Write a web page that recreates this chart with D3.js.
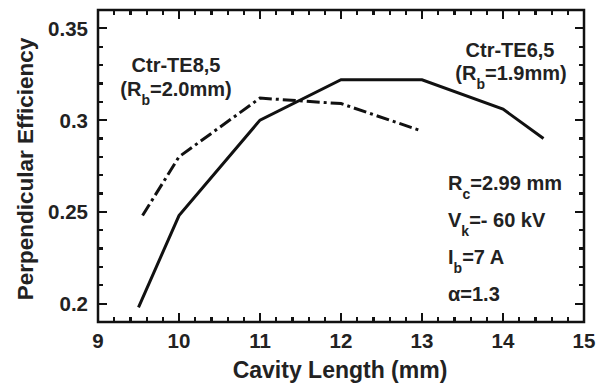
<!DOCTYPE html>
<html>
<head>
<meta charset="utf-8">
<script src="https://cdn.jsdelivr.net/npm/d3@7"></script>
<style>
    body { margin: 0; background: white; }
    svg { display: block; }
    text { font-family: "Liberation Sans", Arial, sans-serif; font-weight: bold; }
</style>
</head>
<body>
<div class="chart"></div>
<script>
// cavity length (mm) and efficiency for the two modes
var te65Length = [9.5, 10, 11, 12, 13, 14, 14.5];
var te65Eff = [0.198, 0.248, 0.300, 0.322, 0.322, 0.306, 0.290];

var te85Length = [9.55, 10, 11, 12, 13];
var te85Eff = [0.248, 0.280, 0.312, 0.309, 0.294];

var xTicks = [9, 10, 11, 12, 13, 14, 15];
var xTickLabels = ["9", "10", "11", "12", "13", "14", "15"];
var yTicks = [0.2, 0.25, 0.3, 0.35];
var yTickLabels = ["0.2", "0.25", "0.3", "0.35"];

function init(){
    var w = 611;
    var h = 383;
    var pLeft = 98, pRight = 584, pTop = 10, pBottom = 322;

    var xScale = d3.scaleLinear()
                    .domain([9, 15])
                    .range([pLeft, pRight]);

    var yScale = d3.scaleLinear()
                    .domain([0.19, 0.36])
                    .range([pBottom, pTop]);

    var svg = d3.select(".chart")
                .append("svg")
                .attr("width", w)
                .attr("height", h);

    var xMinor = d3.range(9, 15.001, 0.2).filter(function(d){
        return Math.abs(d - Math.round(d)) > 0.01;
    });
    var yMinor = d3.range(0.19, 0.3601, 0.01).filter(function(d){
        return Math.abs(d * 20 - Math.round(d * 20)) > 0.01;
    });

    //Frame
    svg.append("rect")
        .attr("x", pLeft)
        .attr("y", pTop)
        .attr("width", pRight - pLeft)
        .attr("height", pBottom - pTop)
        .attr("fill", "none")
        .attr("stroke", "#111")
        .attr("stroke-width", 2.5);

    //Inward ticks on all four sides
    var ticks = svg.append("g")
        .attr("stroke", "#111")
        .attr("stroke-width", 2.2)
        .attr("shape-rendering", "crispEdges");

    function xTickLines(values, len){
        [[pBottom, -1], [pTop, 1]].forEach(function(side){
            ticks.selectAll(null)
                .data(values)
                .enter()
                .append("line")
                .attr("x1", function(d){ return xScale(d); })
                .attr("x2", function(d){ return xScale(d); })
                .attr("y1", side[0])
                .attr("y2", side[0] + side[1] * len);
        });
    }
    function yTickLines(values, len){
        [[pLeft, 1], [pRight, -1]].forEach(function(side){
            ticks.selectAll(null)
                .data(values)
                .enter()
                .append("line")
                .attr("y1", function(d){ return yScale(d); })
                .attr("y2", function(d){ return yScale(d); })
                .attr("x1", side[0])
                .attr("x2", side[0] + side[1] * len);
        });
    }
    xTickLines(xTicks, 9);
    xTickLines(xMinor, 5);
    yTickLines(yTicks, 9);
    yTickLines(yMinor, 5);

    //Tick labels
    svg.selectAll(".xlab")
        .data(xTicks)
        .enter()
        .append("text")
        .attr("class", "xlab")
        .attr("x", function(d){ return xScale(d); })
        .attr("y", 348)
        .attr("text-anchor", "middle")
        .attr("font-size", 20.5)
        .attr("fill", "#222")
        .text(function(d, i){ return xTickLabels[i]; });

    svg.selectAll(".ylab")
        .data(yTicks)
        .enter()
        .append("text")
        .attr("class", "ylab")
        .attr("x", 88)
        .attr("y", function(d){ return yScale(d) + 7.5; })
        .attr("text-anchor", "end")
        .attr("font-size", 20.5)
        .attr("fill", "#222")
        .text(function(d, i){ return yTickLabels[i]; });

    //Axis titles
    svg.append("text")
        .attr("x", 340)
        .attr("y", 378)
        .attr("text-anchor", "middle")
        .attr("font-size", 23)
        .attr("fill", "#222")
        .text("Cavity Length (mm)");

    svg.append("text")
        .attr("transform", "translate(33," + ((pTop + pBottom) / 2 + 3) + ") rotate(-90)")
        .attr("text-anchor", "middle")
        .attr("font-size", 22.5)
        .attr("fill", "#222")
        .text("Perpendicular Efficiency");

    //Curves
    var line = d3.line()
                 .x(function(d){ return xScale(d[0]); })
                 .y(function(d){ return yScale(d[1]); });

    svg.append("path")
        .datum(d3.zip(te65Length, te65Eff))
        .attr("d", line)
        .attr("fill", "none")
        .attr("stroke", "#111")
        .attr("stroke-width", 3);

    svg.append("path")
        .datum(d3.zip(te85Length, te85Eff))
        .attr("d", line)
        .attr("fill", "none")
        .attr("stroke", "#111")
        .attr("stroke-width", 3)
        .attr("stroke-dasharray", "13,4,3,4");

    //Labels with subscripts
    function richText(x, y, anchor, parts){
        var t = svg.append("text")
            .attr("x", x)
            .attr("y", y)
            .attr("text-anchor", anchor)
            .attr("font-size", 20)
            .attr("fill", "#222");
        var shift = 0;
        parts.forEach(function(p){
            var s = t.append("tspan").text(p[0]);
            var want = p[1] ? 9 : 0;
            if(want != shift){
                s.attr("dy", want - shift);
                shift = want;
            }
            if(p[1]) s.attr("font-size", 14);
        });
        return t;
    }

    richText(176, 72, "middle", [["Ctr-TE8,5"]]);
    richText(176, 96, "middle", [["(R"], ["b", 1], ["=2.0mm)"]]);
    richText(510, 57, "middle", [["Ctr-TE6,5"]]);
    richText(511, 80, "middle", [["(R"], ["b", 1], ["=1.9mm)"]]);

    richText(448, 190, "start", [["R"], ["c", 1], ["=2.99 mm"]]);
    richText(448, 227, "start", [["V"], ["k", 1], ["=- 60 kV"]]);
    richText(448, 264, "start", [["I"], ["b", 1], ["=7 A"]]);
    richText(448, 301, "start", [["\u03b1=1.3"]]);
}

window.onload = init;
</script>
</body>
</html>
